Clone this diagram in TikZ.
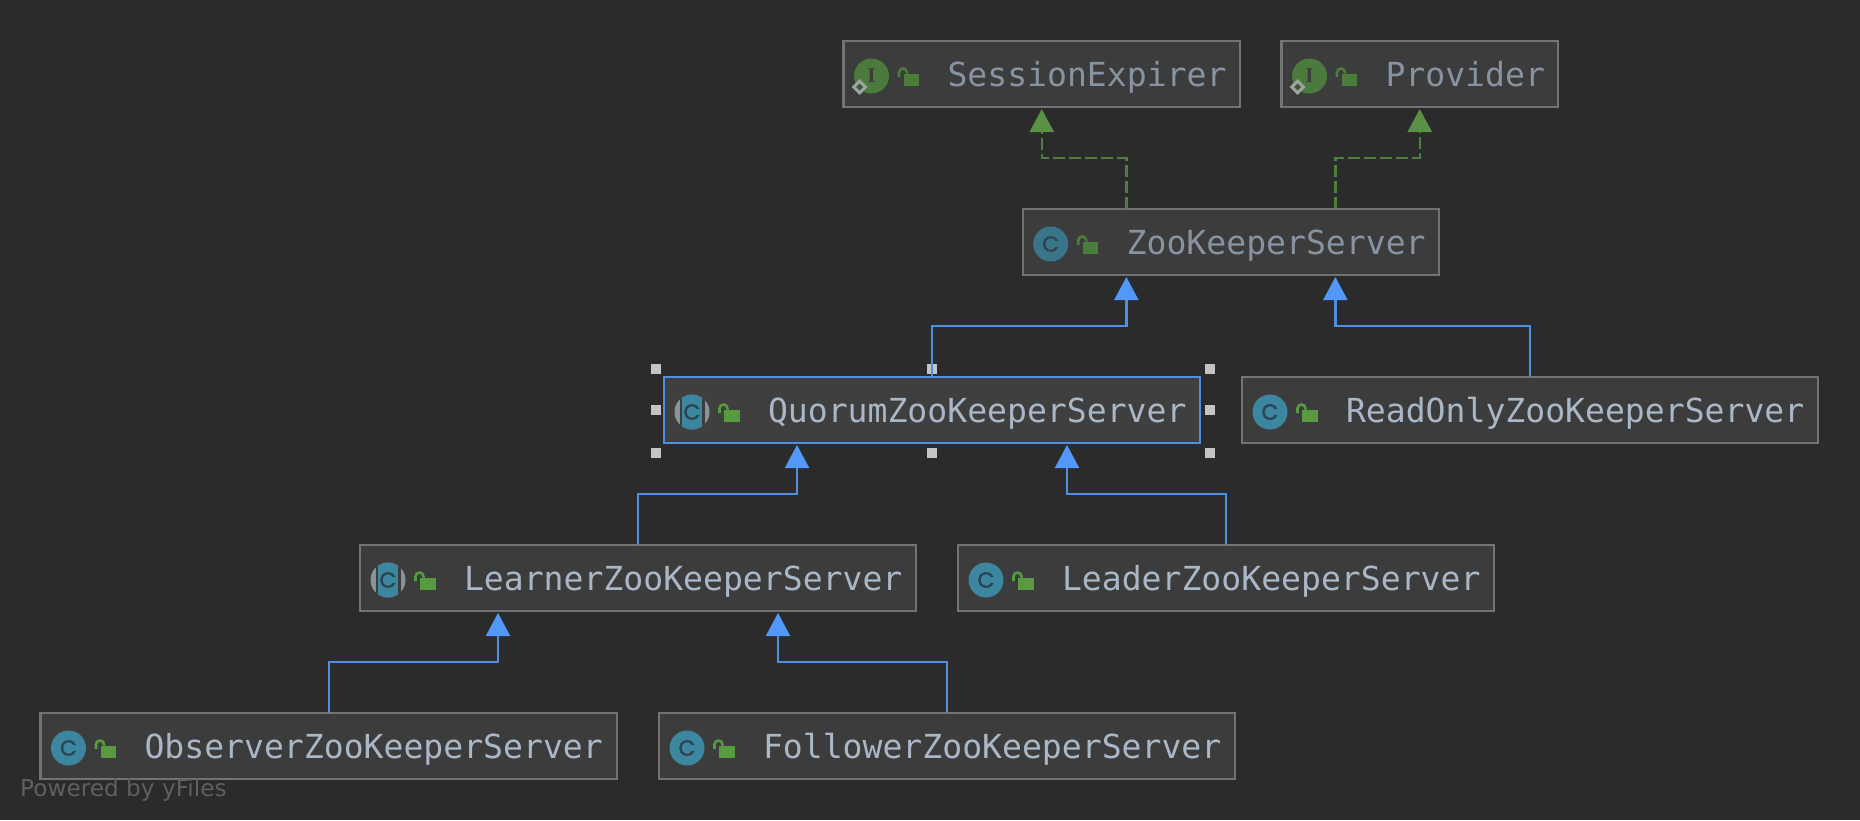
\documentclass[tikz,border=0pt]{standalone}
\usepackage{fontspec}
\setmonofont{DejaVu Sans Mono}
\setsansfont{DejaVu Sans}
\newfontfamily\iconC[FakeBold=1.5]{Poppins}
\newfontfamily\iconI{Liberation Serif}
\usetikzlibrary{arrows.meta}
\definecolor{bgc}{HTML}{2B2B2B}
\definecolor{fillc}{HTML}{3C3C3C}
\definecolor{fillq}{HTML}{3F3F3F}
\definecolor{edgec}{HTML}{737373}
\definecolor{bluec}{HTML}{4F8FDF}
\definecolor{tipblue}{HTML}{5298F8}
\definecolor{greenc}{HTML}{4F7F3F}
\definecolor{tipgreen}{HTML}{5B9147}
\definecolor{txtd}{HTML}{8793A1}
\definecolor{txtn}{HTML}{A9B7C6}
\definecolor{circd}{HTML}{3A7488}
\definecolor{circn}{HTML}{3D86A0}
\definecolor{lockd}{HTML}{4A7D3A}
\definecolor{lockn}{HTML}{589A40}
\definecolor{icongreen}{HTML}{4A7B3C}
\definecolor{glyphc}{HTML}{2C4350}
\definecolor{ringc}{HTML}{89939B}
\definecolor{diac}{HTML}{9AA59E}
\definecolor{handlec}{HTML}{C4C4C4}
\definecolor{poweredc}{HTML}{5F5F5F}
\tikzset{
  x=1pt,y=-1pt,
  umlbox/.style={draw=edgec,fill=fillc,line width=2.2pt,rectangle,minimum height=66pt,inner sep=0pt,outer sep=0pt,anchor=north west},
  selbox/.style={umlbox,draw=bluec,fill=fillq},
  umltext/.style={anchor=base west,inner sep=0pt,outer sep=0pt,font=\ttfamily\fontsize{33.1}{36}\selectfont},
  ext/.style={draw=bluec,line width=2.3pt,-{Triangle[width=24pt,length=23pt,fill=tipblue,color=tipblue]},shorten >=2pt},
  impl/.style={draw=greenc,line width=2.3pt,dash pattern=on 12pt off 4pt,-{Triangle[width=24pt,length=23pt,fill=tipgreen,color=tipgreen]},shorten >=2pt},
  handle/.style={fill=handlec,draw=none,rectangle,minimum size=10pt,inner sep=0pt,outer sep=0pt},
  powered/.style={anchor=base west,inner sep=0pt,font=\sffamily\fontsize{23.2}{26}\selectfont,text=poweredc}
}
% name, left, top, width, text, variant (d/n), box style
\newcommand{\umlnode}[7]{%
  \begin{scope}[shift={(#2,#3)}]
    \node[#7,minimum width=#4pt] (#1) at (0,0) {};
    \node[umltext,text=txt#6] (#1-text) at (104,45) {#5};
    \fill[lock#6] (60,32.5) rectangle (75.5,45);
    \draw[lock#6,line width=2.6pt] (55.5,36) -- (55.5,31.5) arc[start angle=180,end angle=0,x radius=4,y radius=-4] -- (63.5,32.5);
  \end{scope}}
\newcommand{\classicon}[3]{% left, top, variant
  \begin{scope}[shift={(#1,#2)}]
    \fill[circ#3] (28,35) circle[radius=17.5];
    \node[inner sep=0pt,text=glyphc,font=\iconC\fontsize{22}{24}\selectfont] at (28,35) {C};
  \end{scope}}
\newcommand{\abstracticon}[2]{%
  \begin{scope}[shift={(#1,#2)}]
    \fill[ringc] (28,35) circle[radius=17.5];
    \begin{scope}
      \clip (28,35) circle[radius=17.5];
      \fill[fillc] (15.5,10) rectangle (40.5,56);
      \fill[circn] (18,10) rectangle (38,56);
    \end{scope}
    \node[inner sep=0pt,text=glyphc,font=\iconC\fontsize{22}{24}\selectfont] at (28,35) {C};
  \end{scope}}
\newcommand{\ifaceicon}[2]{%
  \begin{scope}[shift={(#1,#2)}]
    \fill[icongreen] (28,35) circle[radius=17.5];
    \node[inner sep=0pt,text=fillc,font=\iconI\bfseries\fontsize{21}{23}\selectfont] at (28,35) {I};
    \fill[diac] (16,38) -- (24,46) -- (16,54) -- (8,46) -- cycle;
    \fill[icongreen!40!fillc] (16,42.5) -- (19.5,46) -- (16,49.5) -- (12.5,46) -- cycle;
  \end{scope}}
\begin{document}
\begin{tikzpicture}
\fill[bgc] (0,0) rectangle (1860,820);
\useasboundingbox (0,0) rectangle (1860,820);

\umlnode{session}{843.5}{41}{396.5}{SessionExpirer}{d}{umlbox}
\ifaceicon{843.5}{41}
\umlnode{provider}{1281.5}{41}{276.5}{Provider}{d}{umlbox}
\ifaceicon{1281.5}{41}
\umlnode{zk}{1022.7}{209}{416.3}{ZooKeeperServer}{d}{umlbox}
\classicon{1022.7}{209}{d}
\umlnode{quorum}{664}{377}{536}{QuorumZooKeeperServer}{n}{selbox}
\abstracticon{664}{377}
\umlnode{readonly}{1242}{377}{576}{ReadOnlyZooKeeperServer}{n}{umlbox}
\classicon{1242}{377}{n}
\umlnode{learner}{360}{545}{556}{LearnerZooKeeperServer}{n}{umlbox}
\abstracticon{360}{545}
\umlnode{leader}{958}{545}{536}{LeaderZooKeeperServer}{n}{umlbox}
\classicon{958}{545}{n}
\umlnode{observer}{40.5}{713}{576.5}{ObserverZooKeeperServer}{n}{umlbox}
\classicon{40.5}{713}{n}
\umlnode{follower}{659}{713}{576}{FollowerZooKeeperServer}{n}{umlbox}
\classicon{659}{713}{n}

\node[handle] (h1) at ([shift={(-8,-8)}]quorum.north west) {};
\node[handle] (h2) at ([shift={(0,-8)}]quorum.north) {};
\node[handle] (h3) at ([shift={(10,-8)}]quorum.north east) {};
\node[handle] (h4) at ([shift={(-8,0)}]quorum.west) {};
\node[handle] (h5) at ([shift={(10,0)}]quorum.east) {};
\node[handle] (h6) at ([shift={(-8,10)}]quorum.south west) {};
\node[handle] (h7) at ([shift={(0,10)}]quorum.south) {};
\node[handle] (h8) at ([shift={(10,10)}]quorum.south east) {};

\draw[impl] ([xshift=-104.5pt]zk.north) |- ([yshift=-51pt]session.south) -- (session.south);
\draw[impl] ([xshift=104.5pt]zk.north) |- ([yshift=-51pt]provider.south) -- (provider.south);

\draw[ext] (quorum.north) |- ([shift={(-104.5,51)}]zk.south) -- ([xshift=-104.5pt]zk.south);
\draw[ext] (readonly.north) |- ([shift={(104.5,51)}]zk.south) -- ([xshift=104.5pt]zk.south);
\draw[ext] (learner.north) |- ([shift={(-135,51)}]quorum.south) -- ([xshift=-135pt]quorum.south);
\draw[ext] (leader.north) |- ([shift={(135,51)}]quorum.south) -- ([xshift=135pt]quorum.south);
\draw[ext] (observer.north) |- ([shift={(-140,51)}]learner.south) -- ([xshift=-140pt]learner.south);
\draw[ext] (follower.north) |- ([shift={(140,51)}]learner.south) -- ([xshift=140pt]learner.south);

\node[powered] (poweredby) at (20,796) {Powered by yFiles};
\end{tikzpicture}
\end{document}
